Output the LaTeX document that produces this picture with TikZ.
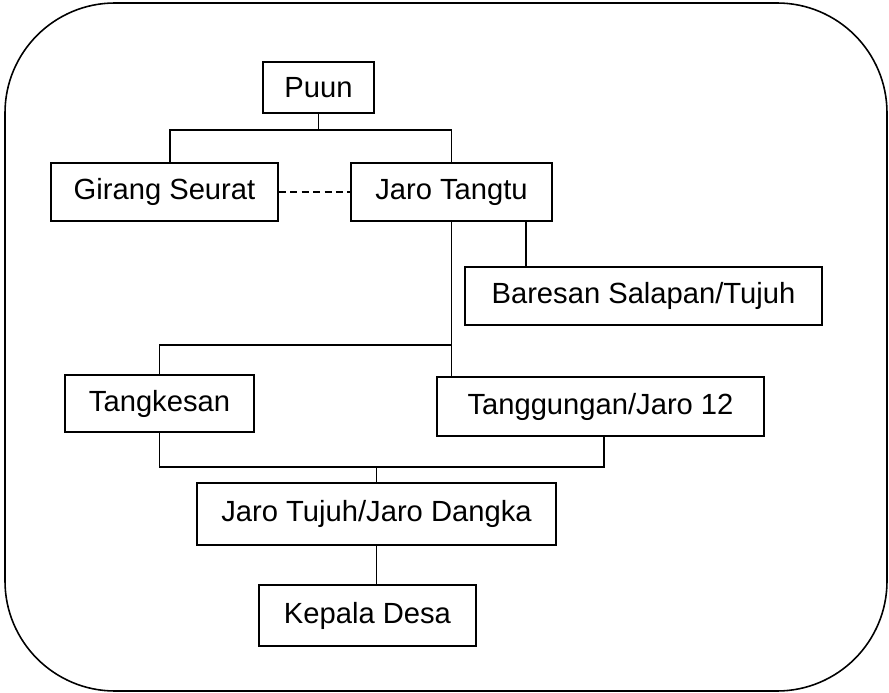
\documentclass[tikz,border=0pt]{standalone}
\usepackage{fontspec}
\setmainfont{Liberation Sans}
\usepackage{tikz}
\usetikzlibrary{shapes,arrows}

\begin{document}
\begin{tikzpicture}
				\tikzstyle{every node}=[draw, shape=rectangle, line width=1pt, inner sep=0pt, font=\fontsize{16.6}{20}\selectfont];
				\tikzstyle{link}=[line width=1pt];
				\useasboundingbox (0,0) rectangle (17.78,-13.86);
				\draw [line width=0.9pt, rounded corners=2.2cm] (0.1,-0.06) rectangle (17.74,-13.82);
				\node [minimum width=2.22cm, minimum height=1.02cm] (puun) at (6.37,-1.75) {Puun};
				\node [minimum width=4.54cm, minimum height=1.16cm] (girang) at (3.29,-3.84) {Girang Seurat};
				\node [minimum width=4.02cm, minimum height=1.16cm] (tangtu) at (9.03,-3.84) {Jaro Tangtu};
				\draw [link] (puun.south) -- ++(0,-0.32) -| ([xshift=0.11cm]girang.north);
				\draw [link] (puun.south) -- ++(0,-0.32) -| (tangtu.north);
				\draw [link, dash pattern=on 4pt off 2.5pt] (girang) -- (tangtu);
				\node [minimum width=7.14cm, minimum height=1.16cm] (baresan) at (12.87,-5.92) {Baresan Salapan/Tujuh};
				\draw [link] ([xshift=1.49cm]tangtu.south) -- ([xshift=1.49cm]tangtu.south |- baresan.north);
				\node [minimum width=3.78cm, minimum height=1.14cm] (tangkesan) at (3.19,-8.07) {Tangkesan};
				\node [minimum width=6.54cm, minimum height=1.18cm] (tanggungan) at (12.01,-8.13) {Tanggungan/Jaro 12};
				\draw [link] (tangtu.south) -- (tangtu.south |- tanggungan.north);
				\draw [link] (tangtu.south |- 0,-6.90) -| (tangkesan.north);
				\node [minimum width=7.18cm, minimum height=1.24cm] (tujuh) at (7.53,-10.28) {Jaro Tujuh/Jaro Dangka};
				\node [minimum width=4.34cm, minimum height=1.22cm] (kepala) at (7.35,-12.31) {Kepala Desa};
				\draw [link] (tangkesan.south) |- (12.08,-9.34) -- (12.08,-9.34 |- tanggungan.south);
				\draw [link] (tujuh.north) -- (tujuh.north |- 0,-9.34);
				\draw [link] (tujuh.south) -- (tujuh.south |- kepala.north);
			\end{tikzpicture}
\end{document}
